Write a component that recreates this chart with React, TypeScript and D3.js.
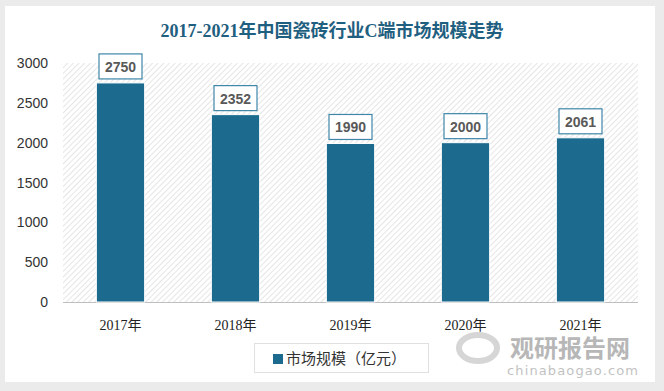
import React from "react";
import * as d3 from "d3";

const years = ["2017年", "2018年", "2019年", "2020年", "2021年"];
const marketSize = [2750, 2352, 1990, 2000, 2061];
const yTicks = [0, 500, 1000, 1500, 2000, 2500, 3000];
const title = "2017-2021年中国瓷砖行业C端市场规模走势";
const seriesName = "市场规模（亿元）";

const W = 664;
const H = 391;
const plot = { left: 63, right: 638, top: 63, bottom: 302 };
const barColor = "#1c6b8f";

export default function App() {
  const x = d3.scaleBand<string>().domain(years).range([plot.left, plot.right]).paddingInner(0.58).paddingOuter(0.29);
  const y = d3.scaleLinear().domain([0, 3000]).range([plot.bottom, plot.top]);

  return (
    <svg width={W} height={H} style={{ position: "absolute", left: 0, top: 0 }}>
      <defs>
        <pattern id="hatch" patternUnits="userSpaceOnUse" width="4" height="4" patternTransform="rotate(45)">
          <rect width="4" height="4" fill="#ffffff" />
          <line x1="0" y1="0" x2="0" y2="4" stroke="#d8d8d8" strokeWidth="1.3" />
        </pattern>
      </defs>
      <rect width={W} height={H} fill="#ebebeb" />
      <rect x={5} y={6} width={650} height={376} fill="#ffffff" />
      <text x={332} y={37} textAnchor="middle" fontSize={18} fontWeight="bold"
        fontFamily="'Liberation Serif', 'Noto Sans CJK SC', serif" fill="#1f6080">{title}</text>

      <rect x={plot.left} y={plot.top} width={plot.right - plot.left} height={plot.bottom - plot.top} fill="url(#hatch)" />
      <line x1={plot.left} x2={plot.right} y1={plot.bottom + 0.5} y2={plot.bottom + 0.5} stroke="#bfbfbf" strokeWidth={1} />

      {yTicks.map((t) => (
        <text key={t} x={48} y={y(t) + 5} textAnchor="end" fontSize={14}
          fontFamily="'Liberation Sans', 'Open Sans', sans-serif" fill="#333">{t}</text>
      ))}

      {years.map((yr, i) => {
        const bx = x(yr)!;
        const bw = x.bandwidth();
        const v = marketSize[i];
        const cx = bx + bw / 2;
        const top = y(v);
        return (
          <g key={yr}>
            <rect x={bx} y={top} width={bw} height={plot.bottom - top} fill={barColor} stroke="#ffffff" strokeWidth={1} />
            <rect x={cx - 21.5} y={top - 29} width={43} height={25} fill="#fff" stroke="#3f86a8" strokeWidth={1.2} />
            <text x={cx} y={top - 11} textAnchor="middle" fontSize={14} fontWeight="bold"
              fontFamily="'Liberation Sans', 'Open Sans', sans-serif" fill="#595959">{v}</text>
            <text x={cx} y={330} textAnchor="middle" fontSize={14}
              fontFamily="'Liberation Serif', 'Noto Sans CJK SC', serif" fill="#222">{yr}</text>
          </g>
        );
      })}

      <rect x={254.5} y={343.5} width={174} height={29} fill="#fff" stroke="#e0e0e0" />
      <rect x={273} y={354} width={10} height={10} fill={barColor} />
      <text x={286} y={364} fontSize={15} fontFamily="'Noto Sans CJK SC', sans-serif" fill="#333">{seriesName}</text>

      <g opacity={0.6}>
        <ellipse cx={478} cy={348} rx={19} ry={13} fill="none" stroke="#bbb" strokeWidth={6} />
        <text x={510} y={357} fontSize={24} fontWeight="bold" fontFamily="'Noto Sans CJK SC', sans-serif" fill="#888">观研报告网</text>
        <text x={507} y={375} fontSize={13} fontFamily="'DejaVu Sans', sans-serif" fill="#999" textLength={131}>chinabaogao.com</text>
      </g>
    </svg>
  );
}
